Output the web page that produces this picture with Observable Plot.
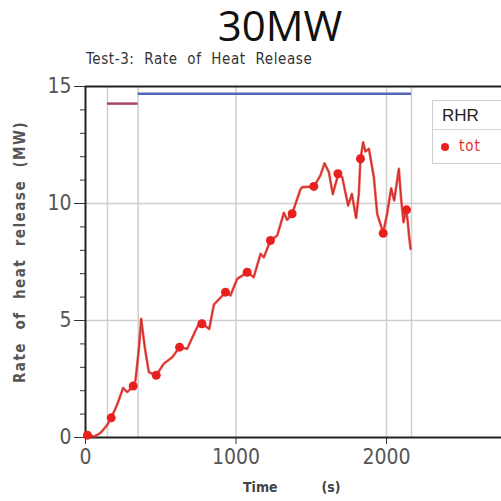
<!DOCTYPE html>
<html>
<head>
<meta charset="utf-8">
<script src="https://cdn.jsdelivr.net/npm/d3@7"></script>
<script src="https://cdn.jsdelivr.net/npm/@observablehq/plot@0.6"></script>
<style>
  html, body { margin: 0; padding: 0; background: #fff; overflow: hidden; }
  #wrap { position: relative; width: 501px; height: 501px; }
  .t { position: absolute; white-space: pre; line-height: 1.2; }
</style>
</head>
<body>
<div id="wrap"></div>
<script>
// ---- data ----
const time = [0, 13, 60, 100, 140, 171, 210, 250, 277, 317, 332, 355, 370, 395, 421, 470, 520, 576, 625, 676, 731, 760, 775, 822, 853, 930, 963, 1008, 1074, 1118, 1163, 1185, 1229, 1274, 1318, 1340, 1373, 1428, 1440, 1517, 1561, 1588, 1617, 1643, 1680, 1706, 1745, 1770, 1798, 1816, 1827, 1845, 1860, 1883, 1916, 1938, 1978, 2004, 2031, 2051, 2082, 2097, 2113, 2128, 2140, 2150, 2160];
const rhr  = [0.0, 0.08, 0.05, 0.2, 0.5, 0.84, 1.4, 2.12, 1.94, 2.2, 2.44, 3.8, 5.07, 3.8, 2.79, 2.66, 3.15, 3.43, 3.86, 3.79, 4.57, 4.93, 4.86, 4.64, 5.68, 6.2, 6.07, 6.78, 7.06, 6.85, 7.85, 7.7, 8.42, 8.63, 9.6, 9.3, 9.56, 10.6, 10.7, 10.72, 11.2, 11.72, 11.34, 10.4, 11.27, 11.12, 9.91, 10.41, 9.38, 10.41, 11.91, 12.62, 12.22, 12.34, 11.12, 9.56, 8.75, 9.56, 10.65, 10.13, 11.48, 10.2, 9.2, 9.75, 9.3, 8.6, 8.06];
const markerTime = [13, 171, 317, 470, 625, 773, 930, 1074, 1229, 1373, 1517, 1677, 1827, 1978, 2133];
const markerRhr  = [0.1, 0.84, 2.2, 2.66, 3.86, 4.86, 6.21, 7.06, 8.42, 9.56, 10.73, 11.27, 11.91, 8.73, 9.73];
const phaseStart = [146, 350];
const phaseEnd   = [350, 2166];
const phaseLevel = [14.27, 14.69];
const phaseColor = ["#a8446e", "#5565b5"];
const gridTimes  = [146, 350, 1000, 2000, 2166];
const gridRhr    = [5, 10];
const xTicks = [0, 1000, 2000];
const yTicks = [0, 5, 10, 15];
const yMinor = d3.range(0, 16, 1);

const series = time.map((t, i) => ({t, v: rhr[i]}));
const markers = markerTime.map((t, i) => ({t, v: markerRhr[i]}));
const phases = phaseStart.map((s, i) => ({s, e: phaseEnd[i], v: phaseLevel[i], c: phaseColor[i]}));

const tickFont = "'DejaVu Sans Condensed', 'DejaVu Sans', sans-serif";

const chart = Plot.plot({
  width: 501,
  height: 501,
  marginLeft: 85,
  marginTop: 86,
  marginBottom: 64,
  marginRight: 0,
  style: {fontFamily: tickFont, color: "#444", background: "transparent"},
  x: {domain: [0, 2764], axis: null},
  y: {domain: [0, 15], axis: null},
  marks: [
    Plot.ruleY(gridRhr, {stroke: "#cfcfcf", strokeWidth: 1.5}),
    Plot.ruleX(gridTimes, {y1: 0, y2: 15, stroke: "#cfcfcf", strokeWidth: 1.5}),
    Plot.axisY({ticks: yMinor, tickSize: 5, text: null, stroke: "#333", label: null}),
    Plot.axisY({ticks: yTicks, tickSize: 11, tickPadding: 3, fontSize: 21, fill: "#555", stroke: "#333", label: null, tickFormat: d => String(d)}),
    Plot.axisX({ticks: xTicks, tickSize: 7, tickPadding: 5, fontSize: 21, fill: "#555", stroke: "#333", label: null, tickFormat: d => String(d)}),
    Plot.ruleY([0, 15], {stroke: "#222", strokeWidth: 2}),
    Plot.ruleX([0], {y1: 0, y2: 15, stroke: "#222", strokeWidth: 2}),
    Plot.ruleY(phases, {x1: "s", x2: "e", y: "v", stroke: "c", strokeWidth: 2.5}),
    Plot.line(series, {x: "t", y: "v", stroke: "#ee3a30", strokeWidth: 2.6, strokeOpacity: 0.85}),
    Plot.line(series, {x: "t", y: "v", stroke: "#b52222", strokeWidth: 0.8}),
    Plot.dot(markers, {x: "t", y: "v", r: 4.5, fill: "#e82020", stroke: "none"})
  ]
});

const wrap = document.getElementById("wrap");
chart.style.position = "absolute";
chart.style.left = "0px";
chart.style.top = "0px";
wrap.appendChild(chart);

function addText(txt, css) {
  const d = document.createElement("div");
  d.className = "t";
  d.textContent = txt;
  Object.assign(d.style, css);
  wrap.appendChild(d);
  return d;
}

addText("30MW", {left: "280px", top: "2px", transform: "translateX(-50%)", fontFamily: "'Open Sans', sans-serif", fontSize: "42px", color: "#111", lineHeight: "1.1"});
addText("Test-3:  Rate  of  Heat  Release", {left: "86px", top: "50px", fontFamily: tickFont, fontSize: "15px", color: "#333", letterSpacing: "0.6px"});
addText("Rate  of  heat  release  (MW)", {left: "20px", top: "252px", transform: "translate(-50%, -50%) rotate(-90deg)", fontFamily: tickFont, fontSize: "15px", fontWeight: "bold", color: "#555", letterSpacing: "1.5px"});
addText("Time          (s)", {left: "243px", top: "479px", fontFamily: tickFont, fontSize: "14px", fontWeight: "bold", color: "#444"});

// legend box
const lg = document.createElement("div");
Object.assign(lg.style, {position: "absolute", left: "432px", top: "100px", width: "90px", height: "64px", border: "1.5px solid #cfcfcf", background: "#fff", boxSizing: "border-box"});
wrap.appendChild(lg);
const hd = document.createElement("div");
Object.assign(hd.style, {height: "29px", borderBottom: "1.5px solid #d8d8d8", fontFamily: "'Liberation Sans', sans-serif", fontSize: "17px", color: "#222", paddingLeft: "9px", lineHeight: "29px", boxSizing: "border-box"});
hd.textContent = "RHR";
lg.appendChild(hd);
const row = document.createElement("div");
Object.assign(row.style, {height: "33px", lineHeight: "33px", paddingLeft: "8px", fontFamily: tickFont, fontSize: "15px", color: "#e03030"});
row.innerHTML = '<span style="display:inline-block;width:8px;height:8px;border-radius:50%;background:#e82020;vertical-align:middle;margin-right:10px;"></span><span style="vertical-align:middle;letter-spacing:1px">tot</span>';
lg.appendChild(row);
</script>
</body>
</html>
